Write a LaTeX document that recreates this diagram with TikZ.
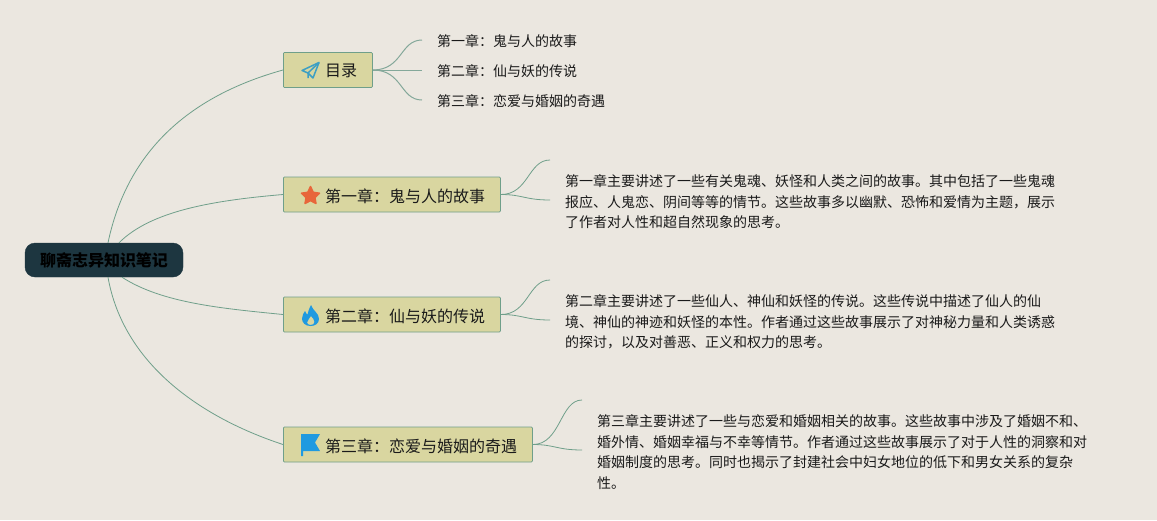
\documentclass[tikz,border=0pt]{standalone}
\usepackage{fontspec}
\setmainfont{Noto Sans CJK SC}
\definecolor{bgc}{HTML}{EBE7E0}
\definecolor{rootc}{HTML}{1D3640}
\definecolor{boxc}{HTML}{D9D6A0}
\definecolor{boxl}{HTML}{6F9F8A}
\definecolor{linkc}{HTML}{6F9F8A}
\definecolor{sublink}{HTML}{84A89A}
\definecolor{txtc}{HTML}{1A1A1A}
\definecolor{planec}{HTML}{3D9FC4}
\definecolor{starc}{HTML}{E8663A}
\definecolor{iconblue}{HTML}{1F9AE0}
\tikzset{
  rootbox/.style={draw=rootc,fill=rootc,rounded corners=10pt,minimum width=158pt,minimum height=34pt,inner sep=0pt,font=\fontsize{16}{18}\selectfont\bfseries,text=black},
  topicbox/.style={draw=boxl,line width=.8pt,fill=boxc,rounded corners=1pt,minimum height=35pt,inner sep=0pt,anchor=west},
  topictext/.style={inner sep=0pt,anchor=west,font=\fontsize{16}{18}\selectfont,text=txtc},
  subtext/.style={inner sep=0pt,anchor=west,font=\fontsize{14}{20.5}\selectfont,text=txtc,align=left},
  mainlink/.style={draw=linkc,line width=.8pt},
  sublinkst/.style={draw=sublink,line width=1pt},
}
\begin{document}
\begin{tikzpicture}[x=1pt,y=-1pt]
\useasboundingbox[fill=bgc] (0,0) rectangle (1157,520);
% nodes
\node[rootbox] (root) at (104,260) {聊斋志异知识笔记};
\node[topicbox,minimum width=89pt] (t0) at (283,70) {};
\node[topicbox,minimum width=217pt] (t1) at (283,194.5) {};
\node[topicbox,minimum width=217pt] (t2) at (283,314.5) {};
\node[topicbox,minimum width=249pt] (t3) at (283,444.5) {};
\node[topictext] (l0) at (325,71) {目录};
\node[topictext] (l1) at (325,196) {第一章：鬼与人的故事};
\node[topictext] (l2) at (325,316) {第二章：仙与妖的传说};
\node[topictext] (l3) at (325,446) {第三章：恋爱与婚姻的奇遇};
\node[subtext] (s1) at (437,41) {第一章：鬼与人的故事};
\node[subtext] (s2) at (437,71) {第二章：仙与妖的传说};
\node[subtext] (s3) at (437,101) {第三章：恋爱与婚姻的奇遇};
\node[subtext] (d1) at (565,202) {第一章主要讲述了一些有关鬼魂、妖怪和人类之间的故事。其中包括了一些鬼魂\\报应、人鬼恋、阴间等等的情节。这些故事多以幽默、恐怖和爱情为主题，展示\\了作者对人性和超自然现象的思考。};
\node[subtext] (d2) at (565,322) {第二章主要讲述了一些仙人、神仙和妖怪的传说。这些传说中描述了仙人的仙\\境、神仙的神迹和妖怪的本性。作者通过这些故事展示了对神秘力量和人类诱惑\\的探讨，以及对善恶、正义和权力的思考。};
\node[subtext] (d3) at (597,452) {第三章主要讲述了一些与恋爱和婚姻相关的故事。这些故事中涉及了婚姻不和、\\婚外情、婚姻幸福与不幸等情节。作者通过这些故事展示了对于人性的洞察和对\\婚姻制度的思考。同时也揭示了封建社会中妇女地位的低下和男女关系的复杂\\性。};
% free ends
\coordinate (e01) at (422,40);
\coordinate (e02) at (422,70);
\coordinate (e03) at (422,100);
\coordinate (e11) at (550,160);
\coordinate (e12) at (550,200);
\coordinate (e21) at (550,280);
\coordinate (e22) at (550,320);
\coordinate (e31) at (582,400);
\coordinate (e32) at (582,450);
% main links
\draw[mainlink] ([xshift=4pt]root.north) .. controls +(20,-95) and +(-90,25) .. (t0.west);
\draw[mainlink] ([xshift=15pt]root.north) .. controls +(32,-32) and +(-70,6) .. (t1.west);
\draw[mainlink] ([xshift=18pt]root.south) .. controls +(40,26) and +(-60,-6) .. (t2.west);
\draw[mainlink] ([xshift=4pt]root.south) .. controls +(15,85) and +(-85,-28) .. (t3.west);
% sub links
\draw[sublinkst] (t0.east) .. controls +(30,0) and +(-22,0) .. (e01);
\draw[sublinkst] (t0.east) -- (e02);
\draw[sublinkst] (t0.east) .. controls +(30,0) and +(-22,0) .. (e03);
\draw[mainlink] (t1.east) .. controls +(28,0) and +(-22,0) .. (e11);
\draw[mainlink] (t1.east) .. controls +(22,0) and +(-25,0) .. (e12);
\draw[mainlink] (t2.east) .. controls +(28,0) and +(-22,0) .. (e21);
\draw[mainlink] (t2.east) .. controls +(22,0) and +(-25,0) .. (e22);
\draw[mainlink] (t3.east) .. controls +(28,0) and +(-22,0) .. (e31);
\draw[mainlink] (t3.east) .. controls +(22,0) and +(-25,0) .. (e32);
% icons
\draw[planec,line width=1.5pt,line join=round] (319,62.5) -- (302,70.5) -- (308,73) -- (313,78) -- cycle;
\draw[planec,line width=1.5pt,line join=round] (319,62.5) -- (308,73) -- (308,78);
\fill[starc,draw=starc,line width=1.5pt,line join=round] (310.5,186.5) -- (313.2,192.3) -- (319.5,193.2) -- (314.9,197.6) -- (316,203.5) -- (310.5,200.6) -- (305,203.5) -- (306.1,197.6) -- (301.5,193.2) -- (307.8,192.3) -- cycle;
\fill[iconblue,even odd rule] (311,305) .. controls (313,311) and (319,313) .. (319,319) .. controls (319,323.5) and (315,326) .. (310.5,326) .. controls (305,326) and (302,322.5) .. (302,318.5) .. controls (302,315) and (304,313) .. (305,311) .. controls (306,313) and (306.5,314) .. (307.5,314.5) .. controls (308.5,311) and (309,308) .. (311,305) -- cycle
(311,316) .. controls (310,318.5) and (307,320) .. (307,322.5) .. controls (307,324) and (309,325) .. (310.5,325) .. controls (312.5,325) and (314.5,324) .. (314.5,322) .. controls (314.5,319.5) and (312.5,318) .. (311,316) -- cycle;
\fill[iconblue] (301,434) -- (320,434) -- (315,442.5) -- (320,451) -- (303,451) -- (303,456) -- (301,456) -- cycle;
\end{tikzpicture}
\end{document}
